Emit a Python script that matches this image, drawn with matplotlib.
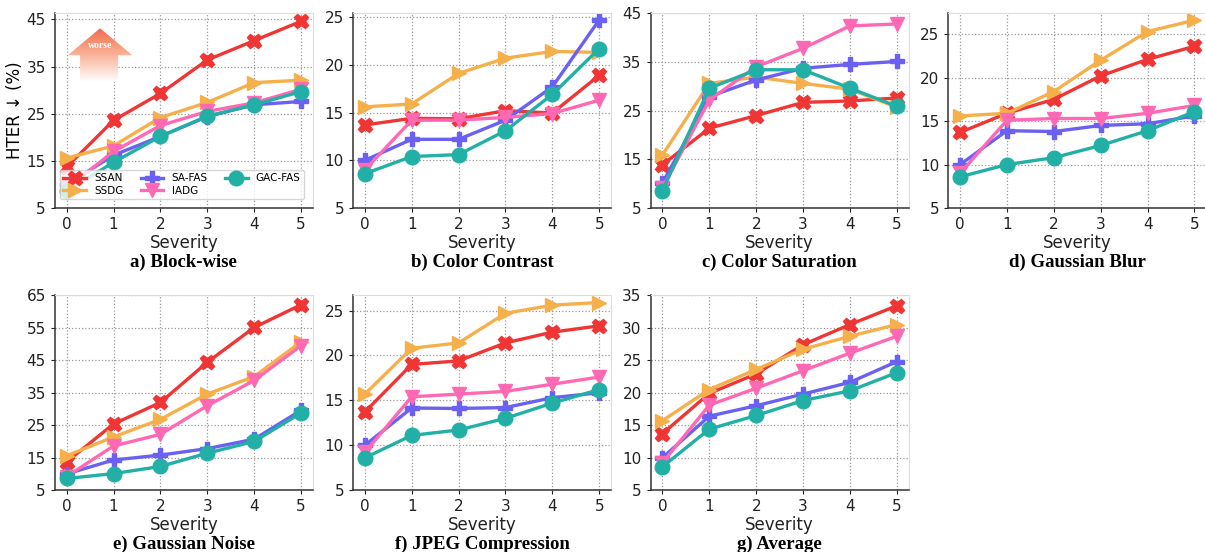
import numpy as np
import matplotlib
matplotlib.use('Agg')
from matplotlib import pyplot as plt
from matplotlib.patches import Polygon
from matplotlib.colors import LinearSegmentedColormap

# severity levels and methods
severity = [0, 1, 2, 3, 4, 5]
methods = ['SSAN', 'SSDG', 'SA-FAS', 'IADG', 'GAC-FAS']
colors = ['#F03535', '#F5B04C', '#6A60F2', '#FF69B4', '#22B0A6']
markers = ['X', '>', 'P', 'v', 'o']

# HTER (%) per panel, rows in the order of methods
hter_block = [[13.7, 23.6, 29.3, 36.4, 40.5, 44.6],
              [15.6, 18.2, 24.2, 27.4, 31.6, 32.1],
              [10.0, 16.2, 20.2, 24.4, 26.9, 27.6],
              [9.2, 17.0, 22.5, 25.5, 27.3, 30.2],
              [8.6, 14.7, 20.2, 24.5, 26.9, 29.7]]
hter_contrast = [[13.7, 14.4, 14.35, 15.2, 14.95, 18.9],
                 [15.6, 15.9, 19.1, 20.7, 21.4, 21.3],
                 [10.0, 12.2, 12.2, 14.2, 17.7, 24.7],
                 [9.0, 14.2, 14.2, 14.5, 14.9, 16.3],
                 [8.6, 10.4, 10.6, 13.1, 16.9, 21.7]]
hter_saturation = [[13.9, 21.4, 24.0, 26.7, 27.0, 27.6],
                   [15.9, 30.6, 31.9, 30.6, 29.4, 25.7],
                   [10.1, 27.9, 31.3, 33.7, 34.5, 35.1],
                   [9.1, 27.2, 34.0, 37.8, 42.4, 42.8],
                   [8.6, 29.6, 33.4, 33.4, 29.6, 25.9]]
hter_blur = [[13.7, 15.9, 17.5, 20.2, 22.1, 23.6],
             [15.6, 15.9, 18.4, 22.0, 25.3, 26.6],
             [10.0, 13.9, 13.8, 14.5, 14.7, 15.6],
             [9.0, 15.1, 15.3, 15.3, 15.9, 16.8],
             [8.6, 10.0, 10.8, 12.2, 13.9, 16.1]]
hter_noise = [[13.7, 25.4, 32.0, 44.4, 55.1, 62.1],
              [15.6, 21.4, 26.8, 34.6, 40.0, 50.7],
              [10.0, 14.3, 15.8, 17.8, 20.7, 29.6],
              [9.2, 18.6, 22.2, 31.0, 38.8, 49.5],
              [8.6, 10.1, 12.3, 16.4, 20.0, 28.8]]
hter_jpeg = [[13.7, 19.0, 19.4, 21.4, 22.6, 23.3],
             [15.7, 20.8, 21.4, 24.7, 25.6, 25.9],
             [10.0, 14.15, 14.1, 14.2, 15.3, 15.85],
             [9.2, 15.4, 15.7, 16.0, 16.8, 17.6],
             [8.6, 11.1, 11.7, 13.0, 14.7, 16.2]]
hter_average = [[13.7, 19.9, 22.9, 27.4, 30.5, 33.4],
                [15.7, 20.5, 23.6, 26.7, 28.7, 30.5],
                [10.0, 16.4, 18.0, 19.8, 21.6, 24.8],
                [9.2, 18.1, 20.7, 23.4, 26.1, 28.7],
                [8.6, 14.4, 16.5, 18.8, 20.3, 23.1]]

titles = ['a) Block-wise', 'b) Color Contrast', 'c) Color Saturation', 'd) Gaussian Blur',
          'e) Gaussian Noise', 'f) JPEG Compression', 'g) Average']
panels = [hter_block, hter_contrast, hter_saturation, hter_blur,
          hter_noise, hter_jpeg, hter_average]
yticks = [[5, 15, 25, 35, 45], [5, 10, 15, 20, 25], [5, 15, 25, 35, 45], [5, 10, 15, 20, 25],
          [5, 15, 25, 35, 45, 55, 65], [5, 10, 15, 20, 25], [5, 10, 15, 20, 25, 30, 35]]
ytops = [46.3, 25.4, 45, 27.4, 65, 26.7, 35]

fig = plt.figure(figsize=(12.05, 5.52), dpi=100)

lefts = [0.0456, 0.293, 0.540, 0.787]
bottoms = [0.623, 0.112]
w, h = 0.214, 0.353

axes = []
for i in range(7):
    r, c = divmod(i, 4)
    ax = fig.add_axes([lefts[c], bottoms[r], w, h])
    axes.append(ax)
    for k, m in enumerate(methods):
        ax.plot(severity, panels[i][k], color=colors[k], marker=markers[k], markersize=10.5,
                linewidth=2.4, label=m)
    ax.set_xlim(-0.25, 5.25)
    ax.set_ylim(5, ytops[i])
    ax.set_xticks(severity)
    ax.set_yticks(yticks[i])
    ax.tick_params(labelsize=11, length=3, colors='#222222')
    ax.grid(True, linestyle=':', color='#999999', linewidth=0.9)
    ax.set_axisbelow(True)
    for s in ['top', 'right']:
        ax.spines[s].set_color('#dddddd')
        ax.spines[s].set_linewidth(0.8)
    for s in ['left', 'bottom']:
        ax.spines[s].set_color('#333333')
        ax.spines[s].set_linewidth(1.1)
    ax.set_xlabel('Severity', fontsize=12, labelpad=1, color='#222222')
    ax.text(0.5, -0.28, titles[i], transform=ax.transAxes, ha='center', va='center',
            fontsize=13.5, fontweight='bold', family='Liberation Serif')

ax0 = axes[0]
ax0.set_ylabel('HTER ↓ (%)', fontsize=12, labelpad=2)
ax0.legend(loc='lower left', ncol=3, fontsize=7.5, handlelength=2.2, labelspacing=0.25,
           borderpad=0.3, columnspacing=1.6, handletextpad=0.8, framealpha=0.8,
           bbox_to_anchor=(0.0, 0.02))

# "worse" gradient arrow
ins = ax0.inset_axes([0.05, 0.646, 0.25, 0.277])
ins.set_xlim(0, 1)
ins.set_ylim(0, 1)
ins.axis('off')
arrow = Polygon([(0.5, 1), (1, 0.5), (0.78, 0.5), (0.78, 0), (0.19, 0), (0.19, 0.5), (0, 0.5)],
                closed=True, facecolor='none', edgecolor='none')
ins.add_patch(arrow)
cmap = LinearSegmentedColormap.from_list('worse', ['#ffffff', '#F9B49A', '#F26A4A'])
grad = np.linspace(0, 1, 256).reshape(-1, 1)
img = ins.imshow(grad, cmap=cmap, extent=[0, 1, 0, 1], origin='lower', aspect='auto')
img.set_clip_path(arrow)
ins.text(0.5, 0.68, 'worse', ha='center', va='center', color='white', fontsize=7,
         fontweight='bold', family='Liberation Serif')

fig.savefig('out.png', dpi=100)
